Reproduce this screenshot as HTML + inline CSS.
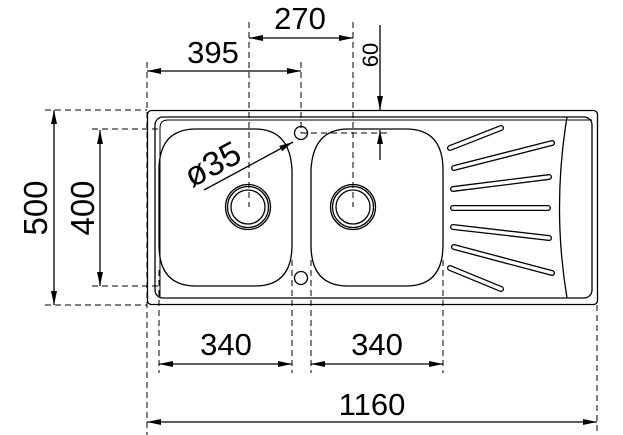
<!DOCTYPE html>
<html><head><style>
html,body{margin:0;padding:0;background:#fff;}
svg{display:block;}
text{font-family:"Liberation Sans","DejaVu Sans",sans-serif;fill:#000;}
</style></head><body>
<svg width="623" height="435" viewBox="0 0 623 435" xmlns="http://www.w3.org/2000/svg">
<defs>
<marker id="b" viewBox="0 0 14 6" refX="14" refY="3" markerWidth="14" markerHeight="6" orient="auto-start-reverse" markerUnits="userSpaceOnUse"><path d="M0,0 L14,3 L0,6 Z" fill="#000"/></marker>
</defs>
<g fill="none" stroke="#000" stroke-width="1" stroke-dasharray="6,4">
<line x1="249" y1="22" x2="249" y2="207"/>
<line x1="353" y1="22" x2="353" y2="207"/>
<line x1="147" y1="62" x2="147" y2="435"/>
<line x1="301" y1="62" x2="301" y2="133"/>
<line x1="45" y1="110" x2="147" y2="110"/>
<line x1="45" y1="305" x2="147" y2="305"/>
<line x1="92" y1="129" x2="159" y2="129"/>
<line x1="92" y1="286" x2="159" y2="286"/>
<line x1="301" y1="133" x2="390" y2="133"/>
<line x1="159" y1="270" x2="159" y2="373"/>
<line x1="292" y1="260" x2="292" y2="373"/>
<line x1="311" y1="260" x2="311" y2="373"/>
<line x1="443" y1="260" x2="443" y2="373"/>
<line x1="597" y1="305" x2="597" y2="435"/>
</g>
<g fill="none" stroke="#000" stroke-width="1.3">
<rect x="147.5" y="110.5" width="450" height="194" rx="4"/>
<rect x="155" y="117" width="437" height="181" rx="8"/>
<path d="M160,297 L160,128 Q160,120 168,120 L592,120" stroke-width="1"/>
<path d="M196,129 L255,129 Q290,129 292,170 L292,245 Q292,286 255,286 L196,286 Q159,286 159,245 L159,170 Q159,129 196,129 Z"/>
<path d="M348,129 L406,129 Q443,129 443,170 L443,245 Q443,286 406,286 L348,286 Q311,286 311,245 L311,170 Q313,129 348,129 Z"/>
<circle cx="248" cy="207" r="22.5"/><circle cx="248" cy="207" r="20.5"/><circle cx="248" cy="207" r="17"/>
<circle cx="353" cy="207" r="22.5"/><circle cx="353" cy="207" r="20.5"/><circle cx="353" cy="207" r="17"/>
<circle cx="301" cy="133" r="6.5"/><circle cx="301" cy="278" r="6.5"/>
<path d="M567,117 Q552,208 567,298"/>
</g>
<g stroke-linecap="round" fill="none">
<g stroke="#000" stroke-width="6">
<line x1="450" y1="148" x2="501" y2="128"/><line x1="454" y1="168" x2="552" y2="143"/>
<line x1="453" y1="189" x2="549" y2="177"/><line x1="453" y1="208" x2="548" y2="208"/>
<line x1="453" y1="227" x2="549" y2="238"/><line x1="454" y1="247" x2="552" y2="273"/>
<line x1="450" y1="268" x2="501" y2="289"/></g>
<g stroke="#fff" stroke-width="3.4">
<line x1="450" y1="148" x2="501" y2="128"/><line x1="454" y1="168" x2="552" y2="143"/>
<line x1="453" y1="189" x2="549" y2="177"/><line x1="453" y1="208" x2="548" y2="208"/>
<line x1="453" y1="227" x2="549" y2="238"/><line x1="454" y1="247" x2="552" y2="273"/>
<line x1="450" y1="268" x2="501" y2="289"/></g>
</g>
<g stroke="#000" stroke-width="1.3" fill="none">
<line x1="249" y1="38" x2="353" y2="38" marker-start="url(#b)" marker-end="url(#b)"/>
<line x1="147" y1="71" x2="301" y2="71" marker-start="url(#b)" marker-end="url(#b)"/>
<line x1="380" y1="25" x2="380" y2="110" marker-end="url(#b)"/>
<line x1="380" y1="160" x2="380" y2="130" marker-end="url(#b)"/>
<line x1="54" y1="110" x2="54" y2="305" marker-start="url(#b)" marker-end="url(#b)"/>
<line x1="100" y1="130" x2="100" y2="286" marker-start="url(#b)" marker-end="url(#b)"/>
<line x1="159" y1="364" x2="292" y2="364" marker-start="url(#b)" marker-end="url(#b)"/>
<line x1="311" y1="364" x2="443" y2="364" marker-start="url(#b)" marker-end="url(#b)"/>
<line x1="147" y1="422" x2="597" y2="422" marker-start="url(#b)" marker-end="url(#b)"/>
<line x1="204" y1="190" x2="293" y2="142" marker-end="url(#b)"/>
</g>
<g font-size="31">
<text x="300" y="29" text-anchor="middle">270</text>
<text x="213" y="63" text-anchor="middle">395</text>
<text x="226" y="355" text-anchor="middle">340</text>
<text x="377" y="355" text-anchor="middle">340</text>
<text x="372" y="415" text-anchor="middle">1160</text>
<text transform="translate(47,208) rotate(-90)" text-anchor="middle" font-size="33">500</text>
<text transform="translate(94,208) rotate(-90)" text-anchor="middle" font-size="33">400</text>
<text transform="translate(192,188) rotate(-28)" font-size="34">ø35</text>
<text transform="translate(378,55) rotate(-90)" text-anchor="middle" font-size="22">60</text>
</g>
</svg>
</body></html>
